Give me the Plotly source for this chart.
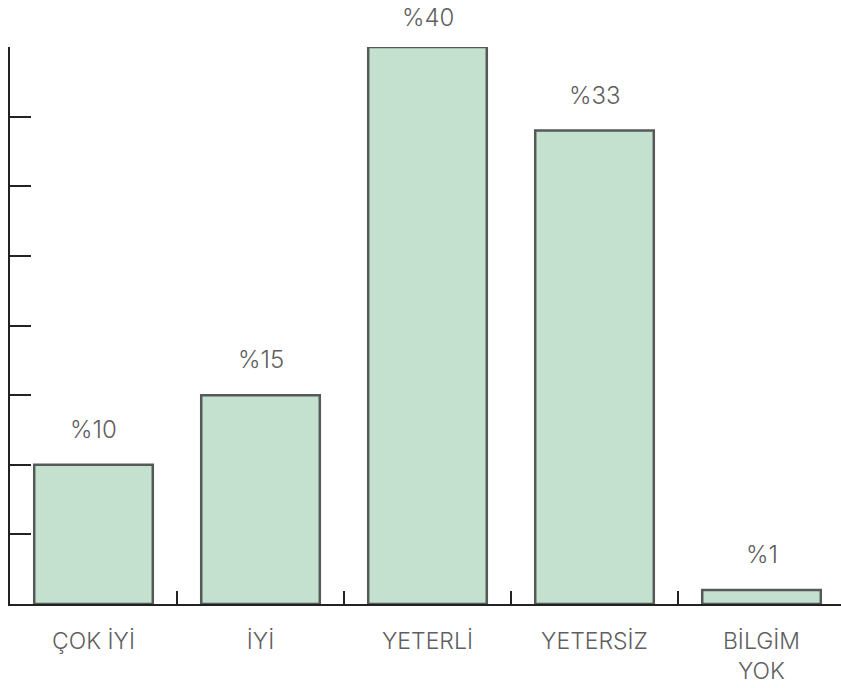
import plotly.graph_objects as go

categories = ["ÇOK İYİ", "İYİ", "YETERLİ", "YETERSİZ", "BİLGİM<br>YOK"]
values = [10, 15, 40, 34, 1]
value_labels = ["%10", "%15", "%40", "%33", "%1"]
y_ticks = [0, 5, 10, 15, 20, 25, 30, 35, 40]
Y_MAX = 40

FONT = "Inter, Open Sans, sans-serif"
TXT = "#5f5f5f"

fig = go.Figure(go.Bar(
    x=categories,
    y=values,
    cliponaxis=False,
    marker=dict(color="#c4e1cf", line=dict(color="#555a58", width=2.5)),
    width=0.71,
))

for c, v, t in zip(categories, values, value_labels):
    fig.add_annotation(
        x=c, y=v, text=t, showarrow=False,
        yanchor="bottom", yshift=13 if v >= Y_MAX else 19,
        font=dict(family=FONT, size=24, color=TXT, weight=300),
    )

fig.update_layout(
    width=841, height=688,
    margin=dict(l=10, r=0, t=47, b=84, autoexpand=False),
    plot_bgcolor="white", paper_bgcolor="white",
    showlegend=False,
    font=dict(family=FONT, size=23, color=TXT, weight=300),
)
fig.update_xaxes(
    range=[-0.5, 4.476],
    automargin=False,
    showline=True, linecolor="#222222", linewidth=2,
    ticks="inside", tickson="boundaries", ticklen=13, tickwidth=2, tickcolor="#222222",
    showgrid=False, zeroline=False,
    ticklabelstandoff=15,
    tickfont=dict(family=FONT, size=23, color=TXT, weight=300),
)
fig.update_yaxes(
    range=[0, Y_MAX],
    automargin=False,
    tickvals=y_ticks,
    showticklabels=False,
    showline=True, linecolor="#222222", linewidth=2,
    ticks="inside", ticklen=21, tickwidth=2, tickcolor="#222222",
    showgrid=False, zeroline=False,
)

fig.write_html(
    "out.html",
    config={"displayModeBar": False},
    post_script="document.body.style.margin='0';document.body.style.overflow='hidden';",
)
